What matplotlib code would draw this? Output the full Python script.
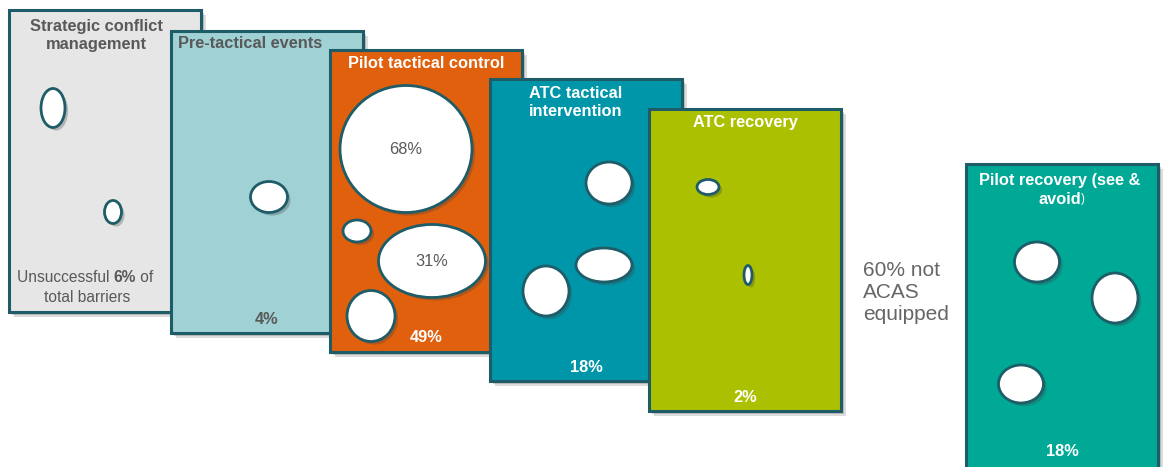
import matplotlib.pyplot as plt
from matplotlib.patches import Rectangle, Ellipse
import matplotlib.patheffects as pe

plt.rcParams['font.family'] = ['Liberation Sans', 'DejaVu Sans']

# barrier stages, left to right
stages = ['Strategic conflict\nmanagement', 'Pre-tactical events', 'Pilot tactical control',
          'ATC tactical\nintervention', 'ATC recovery', 'Pilot recovery (see &\navoid']
stage_share = ['', '4%', '49%', '18%', '2%', '18%']
card_colors = ['#E6E6E6', '#9FD1D5', '#E0600D', '#0096A9', '#ABC000', '#00A896']
text_colors = ['#595959', '#595959', 'white', 'white', 'white', 'white']

# card geometry: left, top, width, height
card_left = [9, 171, 330, 490, 649, 966]
card_top = [10, 31, 50, 79, 109, 164]
card_h = [302, 302, 302, 302, 302, 320]
card_w = 192

# bubbles per stage: centre x, centre y, width, height, label
bubbles = [
    [(53, 108, 24, 39, ''), (113, 212, 17, 23, '')],
    [(269, 197, 37, 31, '')],
    [(406, 149, 132, 127, '68%'), (357, 231, 28, 22, ''),
     (432, 261, 107, 73, '31%'), (371, 316, 48, 51, '')],
    [(609, 183, 46, 42, ''), (604, 265, 56, 34, ''), (546, 291, 46, 50, '')],
    [(708, 187, 22, 15, ''), (748, 275, 8, 19, '')],
    [(1037, 262, 45, 40, ''), (1115, 298, 46, 50, ''), (1021, 384, 45, 38, '')],
]

edge = '#1E5C68'
grey = '#595959'
fs = 11.8

fig = plt.figure(figsize=(11.68, 4.67), dpi=100)
ax = fig.add_axes([0, 0, 1, 1])
ax.set_xlim(0, 1168)
ax.set_ylim(467, 0)
ax.axis('off')

card_shadow = [pe.SimplePatchShadow(offset=(3.5, -3.5), shadow_rgbFace='#8C8C8C', alpha=0.3),
               pe.SimplePatchShadow(offset=(2, -2), shadow_rgbFace='#7F7F7F', alpha=0.35),
               pe.Normal()]
bubble_shadow = [pe.SimplePatchShadow(offset=(2.2, -2.2), shadow_rgbFace='#404040', alpha=0.3),
                 pe.Normal()]

for i, name in enumerate(stages):
    z = 2 + i * 3
    x0, y0 = card_left[i], card_top[i]
    card = Rectangle((x0, y0), card_w, card_h[i], facecolor=card_colors[i],
                     edgecolor=edge, linewidth=2.2, zorder=z)
    card.set_path_effects(card_shadow)
    ax.add_patch(card)

    cx = x0 + card_w / 2
    tc = text_colors[i]
    lines = name.split('\n')
    if i == 0:
        pos = [(cx - 9, y0 + 16), (cx - 9, y0 + 35)]
    elif i == 1:
        pos = [(x0 + 79, y0 + 13)]
    elif i == 3:
        pos = [(cx - 10, y0 + 14), (cx - 10, y0 + 32)]
    elif i == 5:
        pos = [(cx - 2, y0 + 16), (cx - 2, y0 + 35)]
    else:
        pos = [(cx, y0 + 14)]
    for (tx, ty), line in zip(pos, lines):
        t = ax.text(tx, ty, line, ha='center', va='center', fontsize=fs,
                    fontweight='bold', color=tc, zorder=z + 2)
    if i == 5:
        ax.annotate(')', xy=(1, 0.1), xycoords=t, ha='left', va='bottom',
                    fontsize=8.5, color=tc, zorder=z + 2)

    if stage_share[i]:
        ax.text(cx, y0 + 288, stage_share[i], ha='center', va='center',
                fontsize=fs, fontweight='bold', color=tc, zorder=z + 2)

    for bx, by, bw, bh, lab in bubbles[i]:
        e = Ellipse((bx, by), bw, bh, facecolor='white', edgecolor=edge,
                    linewidth=2, zorder=z + 1)
        e.set_path_effects(bubble_shadow)
        ax.add_patch(e)
        if lab:
            ax.text(bx, by, lab, ha='center', va='center', fontsize=fs,
                    color=grey, zorder=z + 2)

# footnote of the first stage, with the share in bold
t1 = ax.text(17, 277, 'Unsuccessful ', ha='left', va='center', fontsize=11.2,
             color=grey, zorder=10)
t2 = ax.annotate('6%', xy=(1, 0), xycoords=t1, ha='left', va='bottom',
                 fontsize=11.2, fontweight='bold', color=grey, zorder=10)
ax.annotate(' of', xy=(1, 0), xycoords=t2, ha='left', va='bottom',
            fontsize=11.2, color=grey, zorder=10)
ax.text(87, 297, 'total barriers', ha='center', va='center', fontsize=11.2,
        color=grey, zorder=10)

ax.text(863, 293, '60% not\nACAS\nequipped', ha='left', va='center', fontsize=15,
        color='#666666', linespacing=1.2, zorder=30)

fig.savefig('out.png', dpi=100)
